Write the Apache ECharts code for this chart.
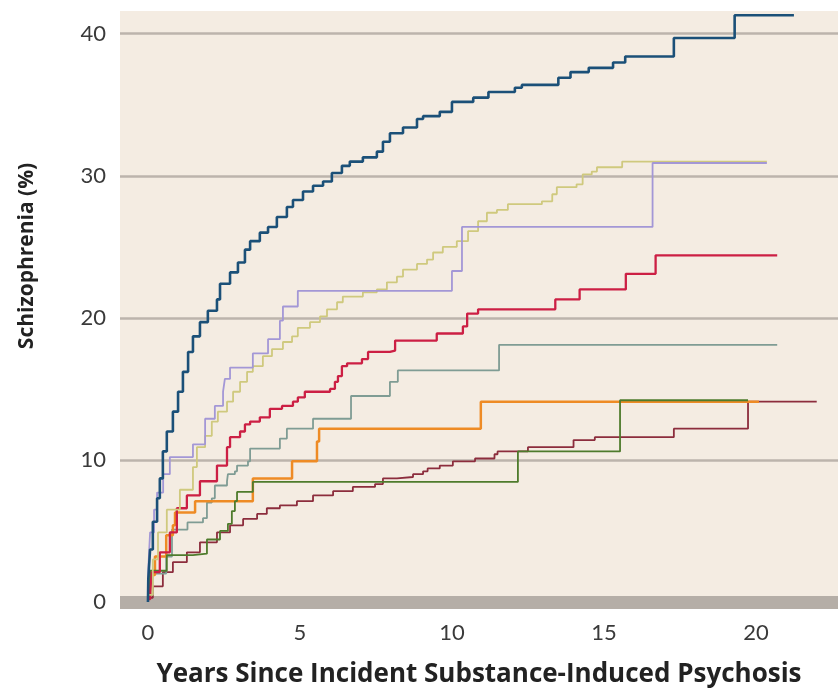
<!DOCTYPE html>
<html><head><meta charset="utf-8">
<script src="https://cdn.jsdelivr.net/npm/echarts@6/dist/echarts.min.js"></script>
<style>html,body{margin:0;padding:0;background:#fff}#c{width:838px;height:693px}</style>
</head><body><div id="c"></div>
<script>
const xTickLabels = [0, 5, 10, 15, 20];
const yTickLabels = [0, 10, 20, 30, 40];
const xTitle = 'Years Since Incident Substance-Induced Psychosis';
const yTitle = 'Schizophrenia (%)';

// [years, cumulative %] — value after each step
const blueSteps = [[0,0],[0.01,1.6],[0.07,3.7],[0.16,5.65],[0.3,7.3],[0.39,8.7],[0.49,10.6],[0.62,12.0],[0.82,13.4],[0.99,14.8],[1.15,16.2],[1.32,17.6],[1.48,18.7],[1.71,19.7],[1.97,20.5],[2.27,21.3],[2.37,22.4],[2.7,23.2],[2.96,23.9],[3.19,24.8],[3.36,25.4],[3.68,26.0],[3.95,26.4],[4.24,27.1],[4.57,27.8],[4.77,28.3],[5.1,28.9],[5.43,29.3],[5.76,29.6],[6.05,30.2],[6.38,30.7],[6.64,31.0],[7.07,31.3],[7.53,31.7],[7.73,32.4],[7.96,33.0],[8.39,33.4],[8.85,34.0],[9.05,34.2],[9.6,34.5],[10.0,35.2],[10.7,35.5],[11.2,35.9],[12.07,36.2],[12.3,36.4],[13.5,36.9],[13.9,37.3],[14.5,37.6],[15.3,37.97],[15.7,38.4],[17.3,39.7],[19.3,41.3],[21.25,41.3]];
const lavenderSteps = [[0,0.5],[0.01,2.3],[0.07,4.9],[0.2,6.5],[0.3,7.7],[0.5,9.0],[0.72,10.2],[1.48,11.1],[1.88,12.9],[2.2,13.8],[2.47,14.8],[2.53,15.7],[2.7,16.5],[3.45,17.5],[3.95,18.5],[4.34,19.8],[4.44,20.8],[4.93,21.9],[10.0,23.3],[10.33,26.4],[16.6,30.9],[20.36,30.9]];
const khakiSteps = [[0,0.5],[0.16,3.0],[0.33,4.9],[0.62,6.5],[1.05,7.9],[1.48,9.5],[1.61,10.9],[1.88,11.7],[2.1,12.7],[2.3,13.4],[2.6,14.1],[2.8,14.8],[3.03,15.5],[3.26,16.2],[3.45,16.6],[3.78,17.3],[4.08,17.8],[4.44,18.3],[4.74,18.7],[4.93,19.3],[5.33,19.7],[5.66,20.1],[5.89,20.6],[6.22,21.1],[6.41,21.5],[7.07,21.8],[7.53,22.0],[7.86,22.5],[8.19,22.9],[8.39,23.4],[8.85,23.8],[9.18,24.1],[9.38,24.6],[9.7,25.0],[10.16,25.4],[10.53,26.1],[10.86,26.8],[11.15,27.4],[11.48,27.6],[11.84,28.0],[12.96,28.2],[13.3,28.7],[13.45,29.2],[14.1,29.4],[14.3,30.1],[14.6,30.3],[14.77,30.6],[15.6,31.0],[20.36,31.0]];
const crimsonSteps = [[0,0.2],[0.07,0.7],[0.13,2.1],[0.39,3.5],[0.72,4.9],[0.95,6.6],[1.28,7.5],[1.71,8.5],[2.27,9.6],[2.6,10.9],[2.7,11.6],[3.03,12.0],[3.19,12.5],[3.36,12.7],[3.68,13.0],[4.01,13.6],[4.41,13.8],[4.77,14.1],[4.93,14.4],[5.16,14.8],[5.99,15.0],[6.15,15.5],[6.25,15.9],[6.38,16.6],[6.55,16.8],[7.04,17.1],[7.24,17.6],[7.96,17.7],[8.13,18.4],[9.5,18.9],[10.36,19.4],[10.5,20.3],[10.86,20.6],[13.4,21.3],[14.2,22.0],[15.72,23.1],[16.7,24.4],[20.7,24.4]];
const tealSteps = [[0,0.5],[0.15,2.0],[0.6,3.2],[0.79,5.1],[1.3,5.6],[1.81,5.9],[1.94,7.0],[2.1,7.3],[2.2,8.2],[2.6,8.5],[2.63,9.0],[2.86,9.2],[2.93,9.6],[3.29,9.9],[3.36,10.8],[4.34,11.5],[4.57,12.2],[5.43,12.9],[6.68,14.5],[7.96,15.5],[8.22,16.3],[11.55,18.1],[20.7,18.1]];
const orangeSteps = [[0,0.4],[0.07,1.9],[0.23,3.2],[0.6,4.7],[0.82,5.4],[0.89,6.3],[1.55,7.1],[3.45,8.7],[4.74,9.9],[5.56,11.3],[5.63,12.2],[10.95,14.1],[20.1,14.1]];
const greenSteps = [[0,0.3],[0.07,2.2],[0.62,3.3],[1.48,3.4],[1.94,4.4],[2.37,5.0],[2.63,5.5],[2.76,6.4],[2.86,7.1],[2.93,7.75],[3.45,8.45],[12.17,10.6],[15.53,14.2],[19.74,14.2]];
const maroonSteps = [[0,0.3],[0.16,1.1],[0.49,2.1],[0.82,2.8],[1.28,3.5],[1.71,4.2],[2.27,4.9],[2.7,5.4],[3.13,5.85],[3.59,6.2],[3.91,6.6],[4.34,6.8],[4.9,7.1],[5.43,7.5],[6.09,7.8],[6.74,8.1],[7.47,8.3],[7.73,8.7],[8.19,8.8],[8.72,9.0],[9.05,9.2],[9.2,9.4],[9.6,9.6],[10.03,9.9],[10.76,10.1],[11.4,10.4],[11.5,10.6],[12.5,10.9],[14.0,11.4],[14.7,11.6],[17.3,12.2],[19.74,14.1],[22.0,14.1]];

const seriesDefs = [
  {name:'maroon', data: maroonSteps, color:'#8c2d3d', w:1.8},
  {name:'teal', data: tealSteps, color:'#7f9c94', w:1.8},
  {name:'orange', data: orangeSteps, color:'#ee8b25', w:2.5},
  {name:'green', data: greenSteps, color:'#4e7b2c', w:1.8},
  {name:'crimson', data: crimsonSteps, color:'#cc1f44', w:2.3},
  {name:'khaki', data: khakiSteps, color:'#cfc97e', w:1.8},
  {name:'lavender', data: lavenderSteps, color:'#a397d6', w:1.8},
  {name:'blue', data: blueSteps, color:'#1b5078', w:2.6}
];

const chart = echarts.init(document.getElementById('c'), null, {renderer:'canvas'});
const FONT = 'Lato, "Open Sans", sans-serif';
const TITLE_FONT = '"Open Sans", Lato, sans-serif';
chart.setOption({
  animation: false,
  backgroundColor: '#ffffff',
  grid: {left:120, right:0, top:11, bottom:90, show:true, backgroundColor:'#f4ece2', borderWidth:0},
  graphic: [{
    type:'text', x:27, y:256, rotation: Math.PI/2,
    style:{text: yTitle, fontFamily:TITLE_FONT, fontWeight:'bold', fontSize:21, fill:'#222', align:'center', verticalAlign:'middle'}
  }],
  xAxis: {
    type:'value', min:-0.92, max:22.7,
    name: xTitle, nameLocation:'middle', nameGap:60,
    nameTextStyle:{fontFamily:TITLE_FONT, fontWeight:'bold', fontSize:26, color:'#222'},
    axisLine:{show:true, onZero:false, lineStyle:{color:'#b5aea7', width:13, cap:'butt'}},
    axisTick:{show:false},
    splitLine:{show:false},
    axisLabel:{customValues: xTickLabels, fontFamily:FONT, fontSize:22, color:'#3a3a3a', margin:20}
  },
  yAxis: {
    type:'value', min:0, max:41.6, interval:10,
    axisLine:{show:false}, axisTick:{show:false},
    splitLine:{show:true, showMaxLine:false, showMinLine:false, lineStyle:{color:'#bcb4ac', width:2.5}},
    axisLabel:{customValues: yTickLabels, fontFamily:FONT, fontSize:22, color:'#3a3a3a', margin:14}
  },
  series: seriesDefs.map(s => ({
    name: s.name, type:'line', step:'end', data: s.data, showSymbol:false, symbol:'none',
    lineStyle:{color:s.color, width:s.w}, z: 3
  }))
});
</script></body></html>
